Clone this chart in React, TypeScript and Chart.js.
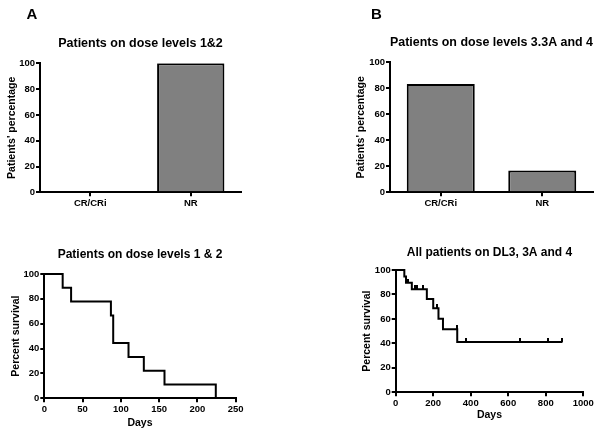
import React, { useEffect, useRef } from 'react';
import { Chart, registerables } from 'chart.js';

Chart.register(...registerables);

const FONT = "'Liberation Sans', Arial, Helvetica, sans-serif";

// ---- data ----
const responseCategories = ['CR/CRi', 'NR'];
const responseDL12 = [0, 100];
const responseDL3 = [83.3, 16.7];

const survivalDaysDL12 = [0, 24, 35, 87, 90, 110, 130, 157, 224];
const survivalPctDL12 = [100, 88.9, 77.8, 66.7, 44.4, 33.3, 22.2, 11.1, 0];

const survivalDaysDL3 = [0, 46, 55, 86, 166, 200, 228, 252, 328, 889];
const survivalPctDL3 = [100, 94.7, 89.5, 84.2, 76.3, 68.7, 60.1, 51.5, 41.2, 41.2];
const censorDaysDL3 = [68, 103, 115, 147, 222, 328, 373, 663, 813, 889];
const censorPctDL3 = [89.5, 84.2, 84.2, 84.2, 68.7, 51.5, 41.2, 41.2, 41.2, 41.2];

const titles = {
  barA: 'Patients on dose levels 1&2',
  barB: 'Patients on dose levels 3.3A and 4',
  kmA: 'Patients on dose levels 1 & 2',
  kmB: 'All patients on DL3, 3A and 4',
};
const yTitleBar = "Patients' percentage";
const yTitleKm = 'Percent survival';
const xTitleKm = 'Days';

// ---- geometry ----
type Geo = {
  left: number; top: number; w: number; h: number;
  yWidth: number; xHeight: number; padRight: number;
  titleSize: number; titleTop: number; titleBottom: number;
  yTitlePad: number; xTitlePad?: number;
};

const grid = { drawOnChartArea: false, drawTicks: true, tickLength: 4, color: '#000', lineWidth: 2 };
const border = { display: true, color: '#000', width: 2 };
const tickFont = { family: FONT, size: 9.5, weight: 'bold' as const };
const axisTitleFont = { family: FONT, size: 10.5, weight: 'bold' as const };
const plainNumber = (v: any) => String(v);

function baseOptions(g: Geo, title: string) {
  return {
    animation: false,
    responsive: false,
    maintainAspectRatio: false,
    layout: { padding: { left: 0, top: 0, bottom: 0, right: g.padRight } },
    plugins: {
      legend: { display: false },
      tooltip: { enabled: false },
      title: {
        display: true,
        text: title,
        fullSize: false,
        color: '#000',
        font: { family: FONT, size: g.titleSize, weight: 'bold' as const, lineHeight: 1.2 },
        padding: { top: g.titleTop, bottom: g.titleBottom },
      },
    },
  };
}

function yScale(g: Geo, text: string) {
  return {
    min: 0,
    max: 100,
    grid,
    border,
    ticks: { stepSize: 20, font: tickFont, color: '#000', padding: 1, callback: plainNumber },
    title: {
      display: true,
      text,
      color: '#000',
      font: { ...axisTitleFont, lineHeight: 1.2 },
      padding: { top: g.yTitlePad, bottom: 0 },
    },
    afterFit: (s: any) => { s.width = g.yWidth; },
  };
}

function barConfig(g: Geo, title: string, values: number[]) {
  return {
    type: 'bar',
    data: {
      labels: responseCategories,
      datasets: [{
        data: values,
        backgroundColor: '#808080',
        borderColor: '#000',
        borderWidth: 2,
        barPercentage: 0.67,
        categoryPercentage: 1,
      }],
    },
    options: {
      ...baseOptions(g, title),
      scales: {
        x: {
          grid: { ...grid, offset: false },
          border,
          ticks: { font: tickFont, color: '#000', padding: 1 },
          afterFit: (s: any) => { s.height = g.xHeight; },
        },
        y: yScale(g, yTitleBar),
      },
    },
  };
}

function kmConfig(g: Geo, title: string, days: number[], pct: number[], xMax: number, xStep: number,
  cDays: number[], cPct: number[], tickImg: HTMLCanvasElement) {
  return {
    type: 'line',
    data: {
      datasets: [
        {
          data: days.map((d, i) => ({ x: d, y: pct[i] })),
          stepped: 'before',
          borderColor: '#000',
          borderWidth: 2,
          pointRadius: 0,
          fill: false,
          clip: false,
        },
        {
          data: cDays.map((d, i) => ({ x: d, y: cPct[i] })),
          showLine: false,
          pointStyle: tickImg,
          pointRadius: 3,
          clip: false,
        },
      ],
    },
    options: {
      ...baseOptions(g, title),
      scales: {
        x: {
          type: 'linear',
          min: 0,
          max: xMax,
          grid,
          border,
          ticks: { stepSize: xStep, font: tickFont, color: '#000', padding: 1, callback: plainNumber },
          title: {
            display: true,
            text: xTitleKm,
            color: '#000',
            font: { ...axisTitleFont, lineHeight: 1.2 },
            padding: { top: 0, bottom: g.xTitlePad ?? 0 },
          },
          afterFit: (s: any) => { s.height = g.xHeight; },
        },
        y: yScale(g, yTitleKm),
      },
    },
  };
}

const geoBarA: Geo = { left: 0, top: 0, w: 300, h: 218, yWidth: 40, xHeight: 25.7, padRight: 59,
  titleSize: 12.5, titleTop: 35.8, titleBottom: 12.5, yTitlePad: 6.2 };
const geoBarB: Geo = { left: 300, top: 0, w: 304, h: 218, yWidth: 90, xHeight: 25.7, padRight: 11,
  titleSize: 12.5, titleTop: 35.5, titleBottom: 11.8, yTitlePad: 54.5 };
const geoKmA: Geo = { left: 0, top: 218, w: 300, h: 219, yWidth: 44.3, xHeight: 38.7, padRight: 64.3,
  titleSize: 12, titleTop: 29.8, titleBottom: 11.8, yTitlePad: 10, xTitlePad: 7.7 };
const geoKmB: Geo = { left: 300, top: 218, w: 304, h: 219, yWidth: 95.7, xHeight: 44.7, padRight: 20.7,
  titleSize: 12, titleTop: 27.3, titleBottom: 10.3, yTitlePad: 61.2, xTitlePad: 15.2 };

function makeTick(): HTMLCanvasElement {
  const c = document.createElement('canvas');
  c.width = 2;
  c.height = 8;
  const ctx = c.getContext('2d')!;
  ctx.fillStyle = '#000';
  ctx.fillRect(0, 0, 2, 4);
  return c;
}

function Panel({ geo, build }: { geo: Geo; build: () => any }) {
  const ref = useRef<HTMLCanvasElement | null>(null);
  useEffect(() => {
    if (!ref.current) return;
    const chart = new Chart(ref.current, build());
    return () => chart.destroy();
  }, []);
  return (
    <canvas
      ref={ref}
      width={geo.w}
      height={geo.h}
      style={{ position: 'absolute', left: geo.left, top: geo.top, width: geo.w, height: geo.h }}
    />
  );
}

export default function App() {
  const letter = {
    position: 'absolute' as const,
    fontFamily: FONT,
    fontWeight: 'bold' as const,
    fontSize: 15,
    lineHeight: '15px',
    color: '#000',
    top: 6.3,
  };
  return (
    <div style={{ position: 'absolute', left: 0, top: 0, width: 604, height: 437, background: '#fff', overflow: 'hidden' }}>
      <Panel geo={geoBarA} build={() => barConfig(geoBarA, titles.barA, responseDL12)} />
      <Panel geo={geoBarB} build={() => barConfig(geoBarB, titles.barB, responseDL3)} />
      <Panel geo={geoKmA} build={() => kmConfig(geoKmA, titles.kmA, survivalDaysDL12, survivalPctDL12, 250, 50, [], [], makeTick())} />
      <Panel geo={geoKmB} build={() => kmConfig(geoKmB, titles.kmB, survivalDaysDL3, survivalPctDL3, 1000, 200, censorDaysDL3, censorPctDL3, makeTick())} />
      <div style={{ ...letter, left: 26.5 }}>A</div>
      <div style={{ ...letter, left: 371 }}>B</div>
    </div>
  );
}
